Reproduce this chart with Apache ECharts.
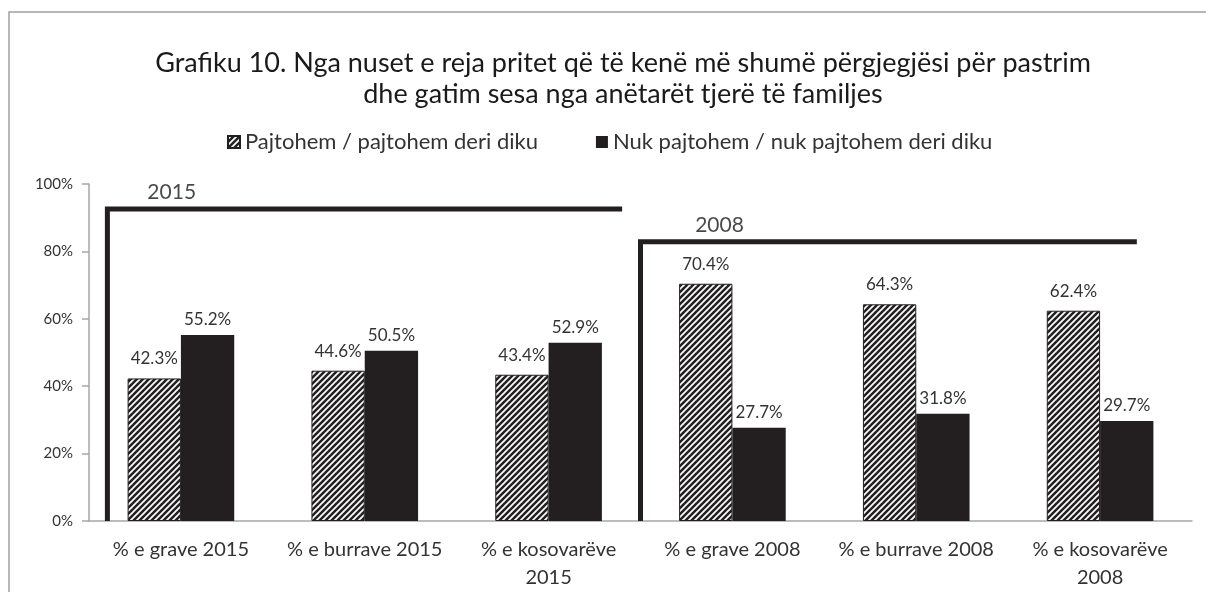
<!DOCTYPE html>
<html>
<head>
<meta charset="utf-8">
<script src="https://cdn.jsdelivr.net/npm/echarts@6/dist/echarts.min.js"></script>
<style>
   html, body { margin: 0; padding: 0; background: #fff; }
   #main { width: 1206px; height: 592px; }
</style>
</head>
<body>
<div id="main"></div>
<script>
const categories = [
   "% e grave 2015",
   "% e burrave 2015",
   "% e kosovarëve 2015",
   "% e grave 2008",
   "% e burrave 2008",
   "% e kosovarëve 2008",
];
const agreeValues = [42.3, 44.6, 43.4, 70.4, 64.3, 62.4];
const disagreeValues = [55.2, 50.5, 52.9, 27.7, 31.8, 29.7];
const seriesNames = ["Pajtohem / pajtohem deri diku", "Nuk pajtohem / nuk pajtohem deri diku"];

// year brackets, x in category units (0..6), y in %
const bracket2015 = [[0.1, 0], [0.1, 92.6], [2.9, 92.6]];
const bracket2008 = [[3.0, 0], [3.0, 82.9], [5.7, 82.9]];
const yearLabels = [["2015", 0.45, 92.6], ["2008", 3.43, 82.9]];

const FONT = "Lato, 'Open Sans', sans-serif";
const INK = "#231f20";

// diagonal hatch like the excel "wide upward diagonal"
function makeHatch() {
   const s = 6;
   const c = document.createElement("canvas");
   c.width = s;
   c.height = s;
   const ctx = c.getContext("2d");
   ctx.fillStyle = "#fff";
   ctx.fillRect(0, 0, s, s);
   ctx.strokeStyle = INK;
   ctx.lineWidth = 2.5;
   for (let k = -1; k <= 1; k++) {
      ctx.beginPath();
      ctx.moveTo(k * s - 1, s + 1);
      ctx.lineTo(k * s + s + 1, -1);
      ctx.stroke();
   }
   return c;
}

const chart = echarts.init(document.getElementById("main"));

const option = {
   animation: false,
   title: {
      text: "Grafiku 10. Nga nuset e reja pritet që të kenë më shumë përgjegjësi për pastrim\ndhe gatim sesa nga anëtarët tjerë të familjes",
      left: 618,
      textAlign: "center",
      top: 43,
      textStyle: {
         fontFamily: FONT,
         fontSize: 27,
         fontWeight: "normal",
         color: "#1a1a1a",
         lineHeight: 31,
      },
   },
   legend: {
      data: seriesNames,
      left: 222,
      top: 126,
      itemWidth: 12,
      itemHeight: 12,
      itemGap: 58,
      icon: "rect",
      textStyle: { fontFamily: FONT, fontSize: 22, color: "#333" },
   },
   graphic: [
      {
         type: "rect",
         shape: { x: 9, y: 12, width: 1400, height: 800 },
         style: { fill: "none", stroke: "#a0a0a0", lineWidth: 1.5 },
         silent: true,
      },
   ],
   grid: { left: 89, right: 14, top: 184, bottom: 70 },
   xAxis: [
      {
         type: "category",
         data: categories,
         axisLine: { lineStyle: { color: "#a6a6a6", width: 1.5 } },
         axisTick: { length: 6, lineStyle: { color: "#a6a6a6", width: 1.5 } },
         axisLabel: {
            fontFamily: FONT,
            fontSize: 20,
            color: "#333",
            margin: 15,
            lineHeight: 28,
            interval: 0,
            formatter: (v) => v.replace("kosovarëve ", "kosovarëve\n"),
         },
      },
      { type: "value", min: 0, max: 6, show: false },
   ],
   yAxis: {
      type: "value",
      min: 0,
      max: 100,
      interval: 20,
      axisLine: { show: true, lineStyle: { color: "#a6a6a6", width: 1.5 } },
      axisTick: { show: true, length: 7, lineStyle: { color: "#a6a6a6", width: 1.5 } },
      splitLine: { show: false },
      axisLabel: {
         fontFamily: FONT,
         fontSize: 15,
         color: "#333",
         margin: 16,
         formatter: "{value}%",
      },
   },
   series: [
      {
         name: seriesNames[0],
         type: "bar",
         data: agreeValues,
         barGap: "0%",
         barCategoryGap: "42%",
         itemStyle: {
            color: { image: makeHatch(), repeat: "repeat" },
            borderColor: INK,
            borderWidth: 1,
         },
         label: {
            show: true,
            position: "top",
            distance: 11,
            formatter: (p) => p.value.toFixed(1) + "%",
            fontFamily: FONT,
            fontSize: 17,
            color: "#333",
         },
      },
      {
         name: seriesNames[1],
         type: "bar",
         data: disagreeValues,
         itemStyle: { color: INK },
         label: {
            show: true,
            position: "top",
            distance: 7,
            formatter: (p) => p.value.toFixed(1) + "%",
            fontFamily: FONT,
            fontSize: 17,
            color: "#333",
         },
      },
      {
         name: "bracket2015",
         type: "line",
         xAxisIndex: 1,
         data: bracket2015,
         symbol: "none",
         silent: true,
         lineStyle: { color: INK, width: 5, join: "miter", cap: "butt" },
         z: 5,
      },
      {
         name: "bracket2008",
         type: "line",
         xAxisIndex: 1,
         data: bracket2008,
         symbol: "none",
         silent: true,
         lineStyle: { color: INK, width: 5, join: "miter", cap: "butt" },
         z: 5,
      },
      {
         name: "years",
         type: "scatter",
         xAxisIndex: 1,
         symbolSize: 0,
         silent: true,
         data: yearLabels.map((d) => ({ value: [d[1], d[2]], name: d[0] })),
         label: {
            show: true,
            position: "top",
            distance: 6,
            formatter: (p) => p.name,
            fontFamily: FONT,
            fontSize: 21,
            color: "#1a1a1a",
         },
      },
   ],
};

chart.setOption(option);
</script>
</body>
</html>
